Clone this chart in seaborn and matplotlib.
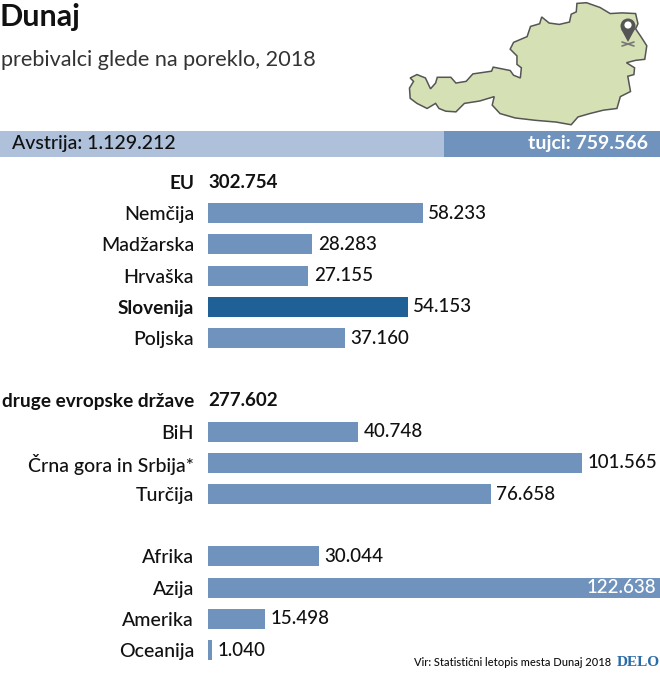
import matplotlib
matplotlib.use("Agg")
import matplotlib.pyplot as plt
import pandas as pd
import seaborn as sns
from matplotlib.patches import Circle, Polygon, Rectangle

## row labels, blank ones are the gaps between groups
labels = ["EU", "Nemčija", "Madžarska", "Hrvaška", "Slovenija", "Poljska", " ",
          "druge evropske države", "BiH", "Črna gora in Srbija*", "Turčija", "  ",
          "Afrika", "Azija", "Amerika", "Oceanija"]
values = [None, 58233, 28283, 27155, 54153, 37160, None,
          None, 40748, 101565, 76658, None,
          30044, 122638, 15498, 1040]
group_labels = ["EU", "druge evropske države"]
group_values = [302754, 277602]
total_labels = ["Avstrija: 1.129.212", "tujci: 759.566"]
highlight = "Slovenija"

title = "Dunaj"
subtitle = "prebivalci glede na poreklo, 2018"
source = "Vir: Statistični letopis mesta Dunaj 2018"

## outline of the map (picture decoration, in zoomed crop pixels)
map_outline = [(522,10),(550,8),(590,22),(620,40),(655,38),(695,40),(702,70),(695,85),(712,110),
               (728,135),(722,175),(695,178),(668,185),(692,200),(690,220),(672,225),(680,270),
               (650,285),(640,320),(600,325),(560,335),(525,345),(505,368),(460,360),(400,355),
               (340,348),(295,335),(272,310),(278,285),(235,298),(190,305),(165,330),(135,328),
               (115,320),(105,305),(80,320),(50,305),(30,290),(28,260),(40,240),(30,230),(50,220),
               (75,230),(90,262),(105,245),(110,228),(150,228),(165,245),(195,240),(215,218),
               (270,210),(275,198),(325,208),(335,222),(355,230),(358,200),(345,190),(345,165),
               (325,145),(335,125),(375,108),(385,78),(412,70),(418,50),(440,68),(470,72),
               (500,65),(505,42),(520,35)]

BLUE = "#7093BD"
DARK = "#1F6196"
LIGHT = "#AFC0DB"
TXT = "#111111"

def fmt(v):
    return f"{int(v):,}".replace(",", ".")

sns.set_theme(style="white")
plt.rcParams['font.family'] = ['Lato', 'DejaVu Sans']
plt.rcParams['font.weight'] = 'medium'

W, H = 660, 676
fig = plt.figure(figsize=(W / 100, H / 100), dpi=100)

#################
## Bars
#################
df = pd.DataFrame({"label": labels, "value": values})
df["value"] = df["value"].astype("float64")
palette = {l: (DARK if l == highlight else BLUE) for l in labels}

row_h = 31.2
top = 182 - row_h / 2
bottom = 650 + row_h / 2
ax = fig.add_axes([208 / W, 1 - bottom / H, 452 / W, (bottom - top) / H])
ax.patch.set_visible(False)
sns.barplot(data=df, x="value", y="label", hue="label", order=labels, palette=palette,
            legend=False, width=0.64, saturation=1, linewidth=0, ax=ax)
ax.set_xlim(0, 122638)
ax.set_ylim(15.5, -0.5)
ax.set_xlabel("")
ax.set_ylabel("")
ax.set_xticks([])
sns.despine(ax=ax, left=True, bottom=True)
ax.tick_params(axis="y", length=0, pad=10, labelsize=14, labelcolor=TXT)
for tick in ax.get_yticklabels():
    if tick.get_text() in group_labels or tick.get_text() == highlight:
        tick.set_fontweight("bold")
        tick.set_fontsize(13.7)

for i, v in enumerate(values):
    if v is None:
        continue
    if v == max(x for x in values if x is not None):
        ax.annotate(fmt(v), (v, i), xytext=(-3, 0), textcoords="offset points", ha="right",
                    va="center", color="white", fontsize=13.5)
    else:
        ax.annotate(fmt(v), (v, i), xytext=(4, 0), textcoords="offset points", ha="left",
                    va="center", color=TXT, fontsize=13.5)
for name, v in zip(group_labels, group_values):
    ax.annotate(fmt(v), (0, labels.index(name)), xytext=(0, 0), textcoords="offset points",
                ha="left", va="center", color=TXT, fontsize=13.5, fontweight="bold")

#################
## Header, in pixel coordinates
#################
top_ax = fig.add_axes([0, 0, 1, 1], zorder=-1)
top_ax.set_xlim(0, W)
top_ax.set_ylim(H, 0)
top_ax.axis("off")

top_ax.text(0, 17, title, fontsize=22, fontweight="bold", color=TXT, va="center", ha="left")
top_ax.text(1, 60, subtitle, fontsize=15.6, color="#333333", va="center", ha="left", fontweight="normal")

top_ax.add_patch(Rectangle((0, 131), 444, 26, color=LIGHT, lw=0))
top_ax.add_patch(Rectangle((444, 131), 216, 26, color=BLUE, lw=0))
top_ax.text(12, 144, total_labels[0], fontsize=14, color=TXT, va="center", ha="left")
top_ax.text(648, 144, total_labels[1], fontsize=14, color="white", fontweight="bold", va="center", ha="right")

## map and pin
pts = [(400 + x / 2.95, y / 2.95) for x, y in map_outline]
top_ax.add_patch(Polygon(pts, closed=True, facecolor="#D5E1B5", edgecolor="#555555", lw=1.1))
top_ax.plot([622, 634], [42, 46], color="#777777", lw=1.2)
top_ax.plot([622, 634], [46, 42], color="#777777", lw=1.2)
top_ax.add_patch(Circle((628, 26), 7.5, color="#555555", lw=0))
top_ax.add_patch(Polygon([(621, 29), (635, 29), (628, 42)], closed=True, color="#555555", lw=0))
top_ax.add_patch(Circle((628, 25), 3.6, color="white", lw=0))

## footer
top_ax.text(611, 663, source, fontsize=8, color=TXT, va="center", ha="right")
top_ax.text(660, 662, "DELO", fontsize=11, color="#2A6BA8", fontweight="bold",
            family="Liberation Serif", va="center", ha="right")

fig.savefig("out.png", dpi=100)
